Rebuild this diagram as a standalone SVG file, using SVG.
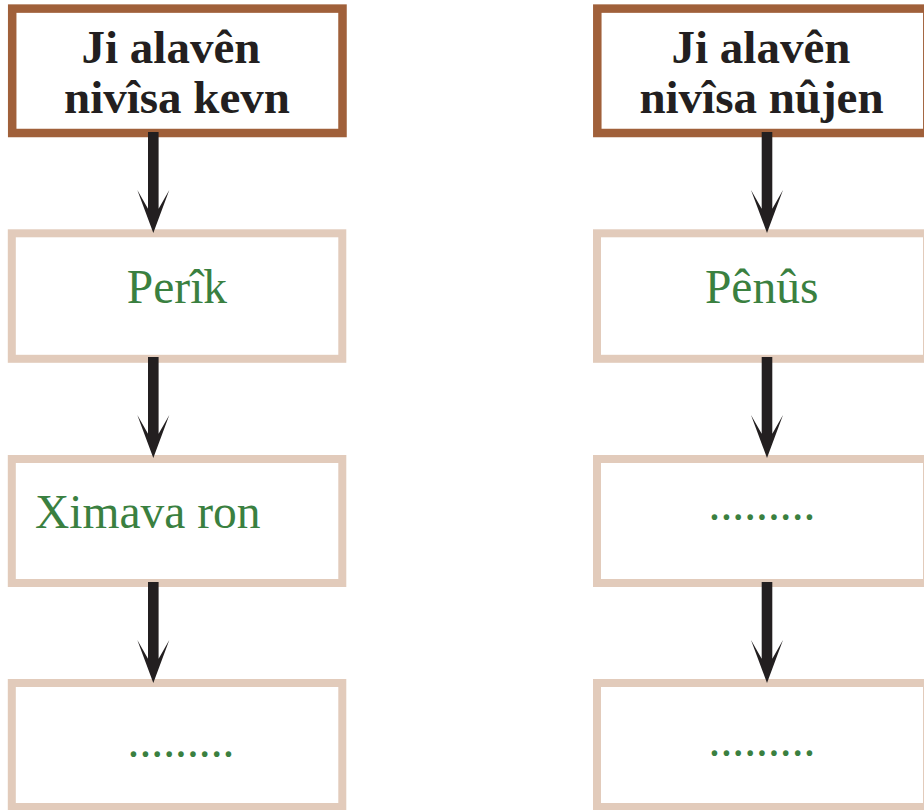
<svg xmlns="http://www.w3.org/2000/svg" width="924" height="810" viewBox="0 0 924 810">
<style>
.hdr{fill:#fff;stroke:#a0603a;stroke-width:8.5}
.box{fill:#fff;stroke:#e2cbbb;stroke-width:8}
.ht{font-family:"Liberation Serif","Times New Roman",serif;font-weight:bold;font-size:47px;fill:#231f20;text-anchor:middle}
.gt{font-family:"Liberation Serif","Times New Roman",serif;font-size:47.5px;fill:#3a8040}
.mid{text-anchor:middle}
.arr{fill:#231f20}
</style>
<defs>
<path id="arrow" d="M-5.3,0 H5.3 V76.7 L16,58 L0,101 L-16,58 L-5.3,76.7 Z"/>
</defs>
<rect width="924" height="810" fill="#fff"/>
<g id="left-header">
<rect class="hdr" x="12.2" y="8.6" width="330.3" height="124.4"/>
<text class="ht" x="171" y="63">Ji alavên</text>
<text class="ht" x="177" y="113">nivîsa kevn</text>
</g>
<g id="left-1">
<rect class="box" x="11.8" y="233.3" width="330.5" height="125.5"/>
<text class="gt mid" x="177" y="302.7">Perîk</text>
</g>
<g id="left-2">
<rect class="box" x="11.8" y="459" width="330.5" height="124"/>
<text class="gt" x="35" y="528.3">Ximava ron</text>
</g>
<g id="left-3">
<rect class="box" x="11.8" y="683" width="330.5" height="124"/>
<text class="gt mid" x="181" y="757">.........</text>
</g>
<g id="right-header">
<rect class="hdr" x="597.3" y="8.6" width="330" height="124.4"/>
<text class="ht" x="761" y="63">Ji alavên</text>
<text class="ht" x="761.5" y="113">nivîsa nûjen</text>
</g>
<g id="right-1">
<rect class="box" x="597" y="233.3" width="330" height="125.5"/>
<text class="gt mid" x="761.7" y="302.7">Pênûs</text>
</g>
<g id="right-2">
<rect class="box" x="597" y="459" width="330" height="124"/>
<text class="gt mid" x="762" y="520">.........</text>
</g>
<g id="right-3">
<rect class="box" x="597" y="683" width="330" height="124"/>
<text class="gt mid" x="762" y="755.5">.........</text>
</g>
<g id="connectors" class="arr">
<use href="#arrow" x="153.3" y="132"/>
<use href="#arrow" x="153.3" y="357"/>
<use href="#arrow" x="153.3" y="582"/>
<use href="#arrow" x="767" y="132"/>
<use href="#arrow" x="767" y="357"/>
<use href="#arrow" x="767" y="582"/>
</g>
</svg>
